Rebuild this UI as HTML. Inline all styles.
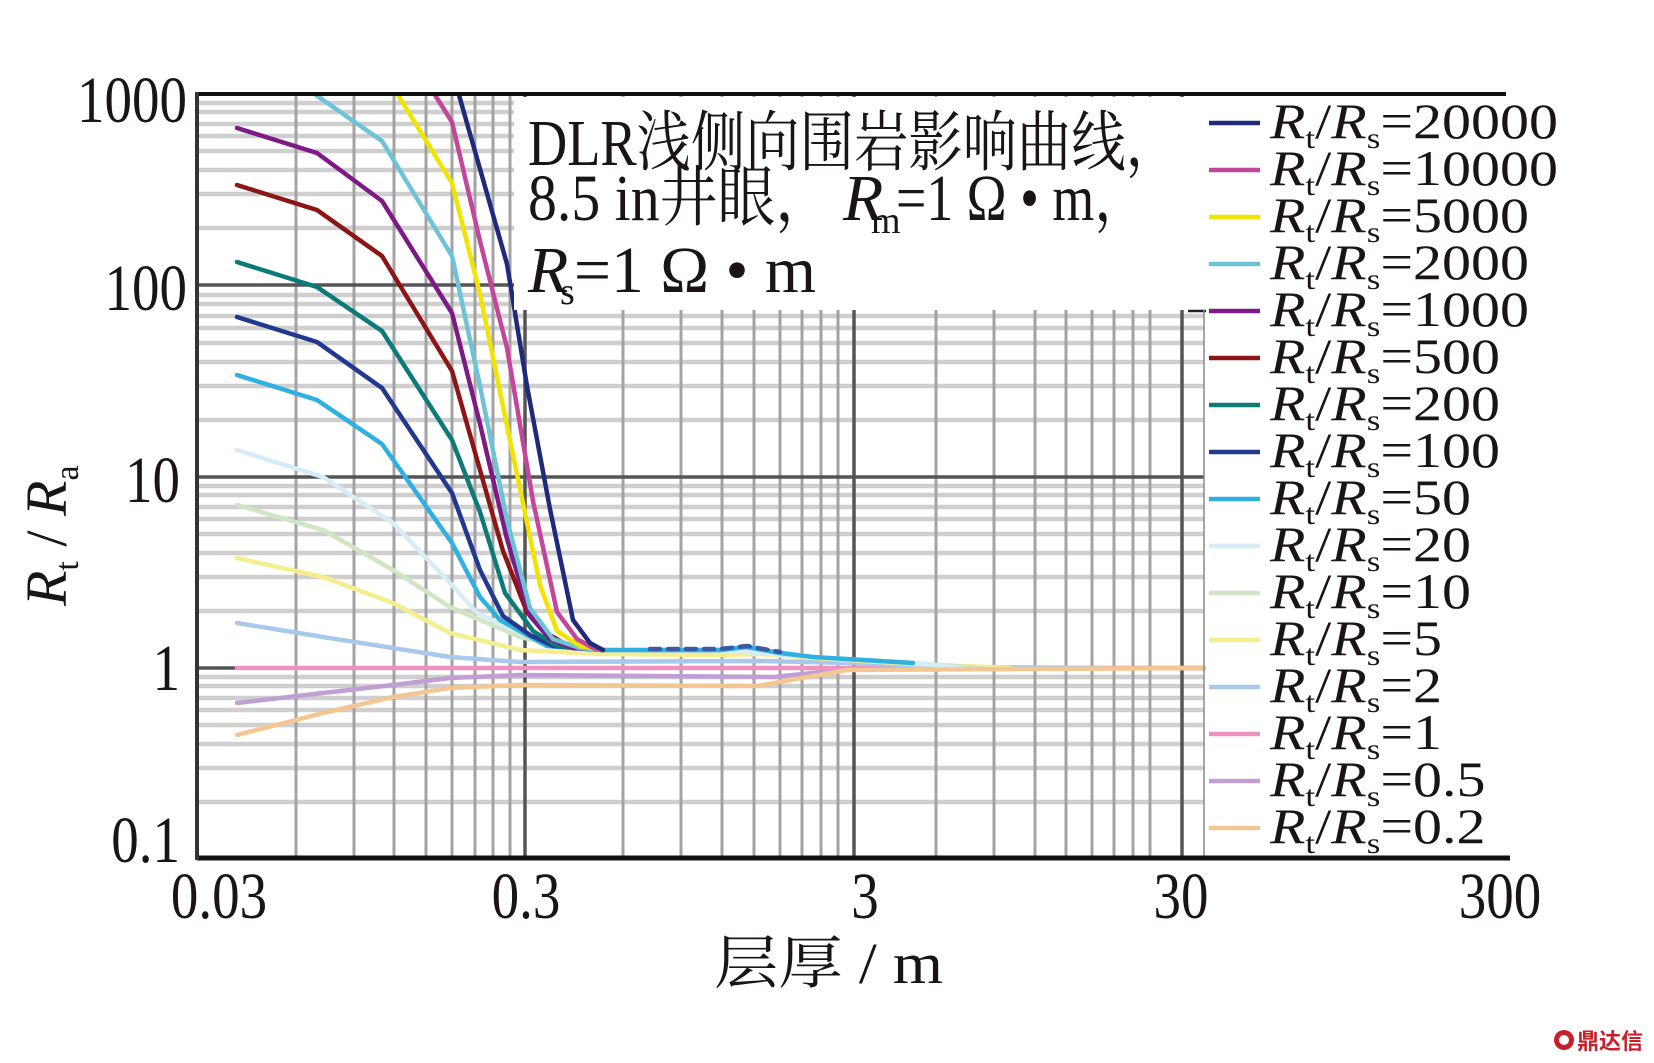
<!DOCTYPE html>
<html><head><meta charset="utf-8"><style>html,body{margin:0;padding:0;background:#fff}svg{display:block}</style></head>
<body>
<svg width="1654" height="1063" viewBox="0 0 1654 1063" xmlns="http://www.w3.org/2000/svg" font-family="'Liberation Serif','Noto Serif CJK SC',serif">
<rect width="1654" height="1063" fill="#fff"/>
<g stroke="#cfcfcf" stroke-width="4.5">
<path d="M197 103H1204M197 112H1204M197 124H1204M197 136H1204M197 151H1204M197 170H1204M197 194H1204M197 228H1204
M197 295H1204M197 304H1204M197 316H1204M197 328H1204M197 343H1204M197 362H1204M197 386H1204M197 420H1204
M197 486H1204M197 495H1204M197 507H1204M197 519H1204M197 534H1204M197 553H1204M197 577H1204M197 611H1204
M197 677H1204M197 686H1204M197 698H1204M197 710H1204M197 725H1204M197 744H1204M197 768H1204M197 802H1204"/>
</g>
<g stroke="#a3a3a3" stroke-width="3">
<path d="M296 94V858M354 94V858M394 94V858M426 94V858M452 94V858M475 94V858M493 94V858M510 94V858
M623 94V858M681 94V858M722 94V858M754 94V858M780 94V858M802 94V858M821 94V858M838 94V858
M936 94V858M994 94V858M1035 94V858M1066 94V858M1092 94V858M1114 94V858M1133 94V858M1150 94V858"/>
</g>
<g stroke="#555" stroke-width="3.5">
<path d="M525 94V858M854 94V858M1182 94V858M197 285H1204M197 477H1204M197 668H237"/>
</g>
<g fill="none" stroke-width="4.5" stroke-linejoin="round" stroke-linecap="round">
<polyline stroke="#c19ed3" points="237,703 323,693 393,685 450,678 520,675 773,677 853,669 1204,668"/>
<polyline stroke="#ef92c2" points="237,668 1204,668"/>
<polyline stroke="#a8c8ec" points="237,623 323,637 393,648 450,657 520,662 760,661 850,663 960,667 1100,668"/>
<polyline stroke="#f5ee8e" points="237,558 323,577 393,603 450,633 520,650 600,654 720,655 760,654 813,658 913,664 1010,668"/>
<polyline stroke="#cfe5c4" points="237,505 323,530 393,570 450,607 520,637 580,650 720,651 760,650 813,657 913,663 980,668"/>
<polyline stroke="#d6ecf6" points="237,450 323,477 393,523 450,583 477,613 520,633 580,650 720,650 813,657 913,663 960,668"/>
<polyline stroke="#f4c792" points="237,735 323,713 393,697 450,688 520,685 757,686 847,670 1204,668"/>
<polyline stroke="#2fb0e0" points="237,375 317,400 382,444 452,543 480,597 500,620 527,635 547,646 603,650 720,650 747,647 780,653 813,657 913,663"/>
<polyline stroke="#23388f" points="237,317 317,342 382,388 452,493 480,570 503,616 530,635 553,646 603,650"/>
<polyline stroke="#0c7b78" points="237,262 317,287 382,331 452,440 480,512 505,593 533,631 557,646 603,650"/>
<polyline stroke="#8c1616" points="237,185 317,210 382,256 452,371 480,470 503,551 527,612 543,631 567,645 603,650"/>
<polyline stroke="#7d1a86" points="237,128 317,153 382,201 452,313 480,424 507,539 530,616 550,639 573,648 603,650"/>
<polyline stroke="#6ec3d6" points="316,95 382,141 452,256 480,386 507,520 530,608 553,639 580,648 603,650"/>
<polyline stroke="#f0e400" points="398,95 452,183 480,294 513,455 540,585 557,631 580,646 603,650"/>
<polyline stroke="#c2479a" points="435,95 452,122 480,241 507,348 533,501 557,612 577,639 593,648 603,650"/>
<polyline stroke="#1f2a7c" points="459,95 507,264 527,386 550,509 573,620 590,643 603,650"/>
<polyline stroke="#3a5aa8" stroke-dasharray="10 8" points="650,649 720,649 747,646 780,652"/>
</g>
<rect x="514" y="97" width="690" height="213" fill="#fff"/>
<rect x="1206" y="97" width="303" height="759" fill="#fff"/>
<path d="M1188 311H1206" stroke="#222" stroke-width="2.5"/>
<path d="M1204 310V858" stroke="#888" stroke-width="1.5"/>
<path d="M197 94H1506" stroke="#111" stroke-width="4"/>
<path d="M197 858H1510" stroke="#111" stroke-width="5"/>
<path d="M197 92V860" stroke="#333" stroke-width="4"/>
<g fill="#1a1414" font-size="66">
<text x="528" y="165" textLength="652" lengthAdjust="spacingAndGlyphs">DLR浅侧向围岩影响曲线，</text>
<text x="528" y="220" textLength="305" lengthAdjust="spacingAndGlyphs">8.5 in井眼，</text>
<text x="843" y="220" font-style="italic">R</text>
<text x="871" y="233" font-size="38">m</text>
<text x="896" y="220" textLength="252" lengthAdjust="spacingAndGlyphs">=1 Ω • m，</text>
<text x="528" y="292" font-style="italic">R</text>
<text x="560" y="304" font-size="38">s</text>
<text x="574" y="292" textLength="242" lengthAdjust="spacingAndGlyphs">=1 Ω • m</text>
</g>
<g fill="#1a1414" font-size="55" text-anchor="end">
<text transform="translate(187,122) scale(1,1.2)">1000</text>
<text transform="translate(187,310) scale(1,1.2)">100</text>
<text transform="translate(180,502) scale(1,1.2)">10</text>
<text transform="translate(180,690) scale(1,1.2)">1</text>
<text transform="translate(180,862) scale(1,1.2)">0.1</text>
</g>
<g fill="#1a1414" font-size="55" text-anchor="middle">
<text transform="translate(219,918) scale(1,1.2)">0.03</text>
<text transform="translate(526,918) scale(1,1.2)">0.3</text>
<text transform="translate(865,918) scale(1,1.2)">3</text>
<text transform="translate(1181,918) scale(1,1.2)">30</text>
<text transform="translate(1500,918) scale(1,1.2)">300</text>
</g>
<text x="714" y="983" font-size="58" fill="#1a1414" textLength="229" lengthAdjust="spacingAndGlyphs">层厚 / m</text>
<g transform="translate(66,606) rotate(-90)" fill="#1a1414" font-size="58">
<text x="0" y="0"><tspan font-style="italic">R</tspan><tspan font-size="34" dy="12">t</tspan><tspan dy="-12"> / </tspan><tspan font-style="italic">R</tspan><tspan font-size="34" dy="12">a</tspan></text>
</g>
<g stroke-width="4.5">
<path stroke="#1f2a7c" d="M1209 123H1260"/>
<path stroke="#c2479a" d="M1209 170H1260"/>
<path stroke="#f0e400" d="M1209 217H1260"/>
<path stroke="#6ec3d6" d="M1209 264H1260"/>
<path stroke="#7d1a86" d="M1209 311H1260"/>
<path stroke="#8c1616" d="M1209 358H1260"/>
<path stroke="#0c7b78" d="M1209 405H1260"/>
<path stroke="#23388f" d="M1209 452H1260"/>
<path stroke="#2fb0e0" d="M1209 499H1260"/>
<path stroke="#d6ecf6" d="M1209 546H1260"/>
<path stroke="#cfe5c4" d="M1209 593H1260"/>
<path stroke="#f5ee8e" d="M1209 640H1260"/>
<path stroke="#a8c8ec" d="M1209 687H1260"/>
<path stroke="#ef92c2" d="M1209 734H1260"/>
<path stroke="#c19ed3" d="M1209 781H1260"/>
<path stroke="#f4c792" d="M1209 828H1260"/>
</g>
<g fill="#1a1414" font-size="58">
<text transform="translate(1270,138) scale(1,0.85)"><tspan font-style="italic">R</tspan><tspan font-size="35" dy="12">t</tspan><tspan dy="-12">/</tspan><tspan font-style="italic">R</tspan><tspan font-size="35" dy="12">s</tspan><tspan dy="-12">=20000</tspan></text>
<text transform="translate(1270,185) scale(1,0.85)"><tspan font-style="italic">R</tspan><tspan font-size="35" dy="12">t</tspan><tspan dy="-12">/</tspan><tspan font-style="italic">R</tspan><tspan font-size="35" dy="12">s</tspan><tspan dy="-12">=10000</tspan></text>
<text transform="translate(1270,232) scale(1,0.85)"><tspan font-style="italic">R</tspan><tspan font-size="35" dy="12">t</tspan><tspan dy="-12">/</tspan><tspan font-style="italic">R</tspan><tspan font-size="35" dy="12">s</tspan><tspan dy="-12">=5000</tspan></text>
<text transform="translate(1270,279) scale(1,0.85)"><tspan font-style="italic">R</tspan><tspan font-size="35" dy="12">t</tspan><tspan dy="-12">/</tspan><tspan font-style="italic">R</tspan><tspan font-size="35" dy="12">s</tspan><tspan dy="-12">=2000</tspan></text>
<text transform="translate(1270,326) scale(1,0.85)"><tspan font-style="italic">R</tspan><tspan font-size="35" dy="12">t</tspan><tspan dy="-12">/</tspan><tspan font-style="italic">R</tspan><tspan font-size="35" dy="12">s</tspan><tspan dy="-12">=1000</tspan></text>
<text transform="translate(1270,373) scale(1,0.85)"><tspan font-style="italic">R</tspan><tspan font-size="35" dy="12">t</tspan><tspan dy="-12">/</tspan><tspan font-style="italic">R</tspan><tspan font-size="35" dy="12">s</tspan><tspan dy="-12">=500</tspan></text>
<text transform="translate(1270,420) scale(1,0.85)"><tspan font-style="italic">R</tspan><tspan font-size="35" dy="12">t</tspan><tspan dy="-12">/</tspan><tspan font-style="italic">R</tspan><tspan font-size="35" dy="12">s</tspan><tspan dy="-12">=200</tspan></text>
<text transform="translate(1270,467) scale(1,0.85)"><tspan font-style="italic">R</tspan><tspan font-size="35" dy="12">t</tspan><tspan dy="-12">/</tspan><tspan font-style="italic">R</tspan><tspan font-size="35" dy="12">s</tspan><tspan dy="-12">=100</tspan></text>
<text transform="translate(1270,514) scale(1,0.85)"><tspan font-style="italic">R</tspan><tspan font-size="35" dy="12">t</tspan><tspan dy="-12">/</tspan><tspan font-style="italic">R</tspan><tspan font-size="35" dy="12">s</tspan><tspan dy="-12">=50</tspan></text>
<text transform="translate(1270,561) scale(1,0.85)"><tspan font-style="italic">R</tspan><tspan font-size="35" dy="12">t</tspan><tspan dy="-12">/</tspan><tspan font-style="italic">R</tspan><tspan font-size="35" dy="12">s</tspan><tspan dy="-12">=20</tspan></text>
<text transform="translate(1270,608) scale(1,0.85)"><tspan font-style="italic">R</tspan><tspan font-size="35" dy="12">t</tspan><tspan dy="-12">/</tspan><tspan font-style="italic">R</tspan><tspan font-size="35" dy="12">s</tspan><tspan dy="-12">=10</tspan></text>
<text transform="translate(1270,655) scale(1,0.85)"><tspan font-style="italic">R</tspan><tspan font-size="35" dy="12">t</tspan><tspan dy="-12">/</tspan><tspan font-style="italic">R</tspan><tspan font-size="35" dy="12">s</tspan><tspan dy="-12">=5</tspan></text>
<text transform="translate(1270,702) scale(1,0.85)"><tspan font-style="italic">R</tspan><tspan font-size="35" dy="12">t</tspan><tspan dy="-12">/</tspan><tspan font-style="italic">R</tspan><tspan font-size="35" dy="12">s</tspan><tspan dy="-12">=2</tspan></text>
<text transform="translate(1270,749) scale(1,0.85)"><tspan font-style="italic">R</tspan><tspan font-size="35" dy="12">t</tspan><tspan dy="-12">/</tspan><tspan font-style="italic">R</tspan><tspan font-size="35" dy="12">s</tspan><tspan dy="-12">=1</tspan></text>
<text transform="translate(1270,796) scale(1,0.85)"><tspan font-style="italic">R</tspan><tspan font-size="35" dy="12">t</tspan><tspan dy="-12">/</tspan><tspan font-style="italic">R</tspan><tspan font-size="35" dy="12">s</tspan><tspan dy="-12">=0.5</tspan></text>
<text transform="translate(1270,843) scale(1,0.85)"><tspan font-style="italic">R</tspan><tspan font-size="35" dy="12">t</tspan><tspan dy="-12">/</tspan><tspan font-style="italic">R</tspan><tspan font-size="35" dy="12">s</tspan><tspan dy="-12">=0.2</tspan></text>
</g>
<circle cx="1564" cy="1040" r="10" fill="#c8202a"/>
<circle cx="1564" cy="1040" r="5" fill="#fff"/>
<text x="1577" y="1049" font-size="22" font-weight="bold" fill="#c8202a" font-family="'Noto Sans CJK SC',sans-serif">鼎达信</text>
</svg>
</body></html>
